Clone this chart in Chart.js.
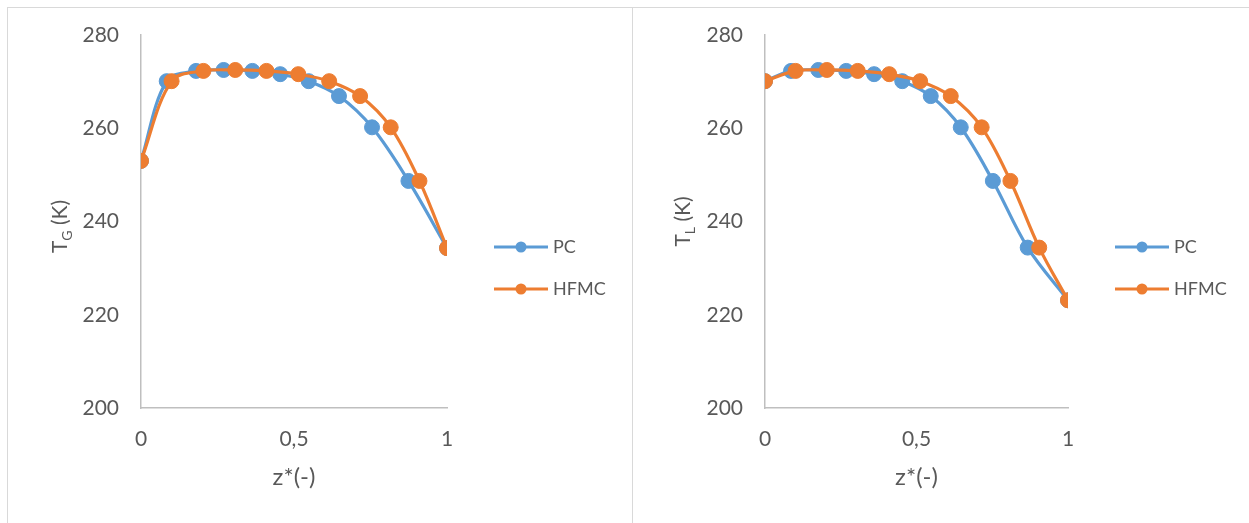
<!DOCTYPE html>
<html>
<head>
<meta charset="utf-8">
<script src="https://cdn.jsdelivr.net/npm/chart.js@4"></script>
<style>
  body { margin: 0; background: #fff; width: 1249px; height: 523px; overflow: hidden; position: relative; }
  .frame { position: absolute; top: 7px; height: 520px; border-top: 1px solid #d9d9d9; }
  #f1 { left: 7px; width: 624px; border-left: 1px solid #d9d9d9; border-right: 1px solid #d9d9d9; }
  #f2 { left: 633px; width: 620px; }
  canvas { position: absolute; top: 8px; }
  #gasChart { left: 8px; }
  #liqChart { left: 633px; }
</style>
</head>
<body>
<div class="frame" id="f1"></div>
<div class="frame" id="f2"></div>
<canvas id="gasChart" width="623" height="515"></canvas>
<canvas id="liqChart" width="616" height="515"></canvas>
<script>
// left chart: gas temperature
const gasPcX = [0, 0.084, 0.18, 0.27, 0.364, 0.455, 0.548, 0.647, 0.755, 0.874, 1];
const gasPcY = [253.0, 270.1, 272.3, 272.5, 272.3, 271.6, 270.1, 266.9, 260.2, 248.7, 234.3];
const gasHfmcX = [0, 0.1, 0.204, 0.308, 0.41, 0.514, 0.615, 0.716, 0.816, 0.91, 1];
const gasHfmcY = [253.0, 270.1, 272.3, 272.5, 272.3, 271.6, 270.1, 266.9, 260.2, 248.7, 234.3];

// right chart: liquid temperature
const liqPcX = [0, 0.086, 0.176, 0.268, 0.36, 0.453, 0.547, 0.646, 0.752, 0.867, 1];
const liqPcY = [270.1, 272.3, 272.5, 272.3, 271.6, 270.1, 266.9, 260.2, 248.7, 234.4, 223.1];
const liqHfmcX = [0, 0.101, 0.204, 0.306, 0.41, 0.512, 0.613, 0.715, 0.81, 0.905, 1];
const liqHfmcY = [270.1, 272.3, 272.5, 272.3, 271.6, 270.1, 266.9, 260.2, 248.7, 234.4, 223.1];

const seriesNames = ['PC', 'HFMC'];
const xTicks = [0, 0.5, 1];
const yTicks = [200, 220, 240, 260, 280];

const BLUE = '#5b9bd5';
const ORANGE = '#ed7d31';
const TEXT = '#595959';
const FONT = 'Lato';

function pairs(xs, ys) {
    return xs.map((x, i) => ({ x: x, y: ys[i] }));
}

// rotated y title with a subscript letter
const yTitlePlugin = {
    id: 'yTitle',
    afterDraw(chart, args, opts) {
        const ctx = chart.ctx;
        const cy = (chart.chartArea.top + chart.chartArea.bottom) / 2 + opts.shift;
        ctx.save();
        ctx.translate(opts.x, cy);
        ctx.rotate(-Math.PI / 2);
        ctx.fillStyle = TEXT;
        ctx.textBaseline = 'middle';
        ctx.font = '21px ' + FONT;
        const w1 = ctx.measureText(opts.main).width;
        const w3 = ctx.measureText(opts.rest).width;
        ctx.font = '14px ' + FONT;
        const w2 = ctx.measureText(opts.sub).width;
        const x = -(w1 + w2 + w3) / 2;
        ctx.font = '21px ' + FONT;
        ctx.fillText(opts.main, x, 0);
        ctx.fillText(opts.rest, x + w1 + w2, 0);
        ctx.font = '14px ' + FONT;
        ctx.fillText(opts.sub, x + w1, 7);
        ctx.restore();
    }
};

// Excel style legend: short line with a marker
const lineLegendPlugin = {
    id: 'lineLegend',
    afterDraw(chart, args, opts) {
        const ctx = chart.ctx;
        const x0 = chart.chartArea.right + opts.dx;
        chart.data.datasets.forEach((ds, i) => {
            const y = opts.y + i * opts.gap;
            ctx.save();
            ctx.strokeStyle = ds.borderColor;
            ctx.lineWidth = 3;
            ctx.beginPath();
            ctx.moveTo(x0, y);
            ctx.lineTo(x0 + 54, y);
            ctx.stroke();
            ctx.fillStyle = ds.borderColor;
            ctx.beginPath();
            ctx.arc(x0 + 27, y, 5.5, 0, Math.PI * 2);
            ctx.fill();
            ctx.fillStyle = TEXT;
            ctx.font = '18px ' + FONT;
            ctx.textBaseline = 'middle';
            ctx.fillText(ds.label, x0 + 59, y);
            ctx.restore();
        });
    }
};

function makeChart(canvasId, pcX, pcY, hfX, hfY, sub, cfg) {
    const ctx = document.getElementById(canvasId).getContext('2d');
    return new Chart(ctx, {
        type: 'line',
        data: {
            datasets: [{
                label: seriesNames[0],
                data: pairs(pcX, pcY),
                borderColor: BLUE,
                backgroundColor: BLUE,
                pointBackgroundColor: BLUE,
                pointBorderColor: BLUE,
                order: 1
            }, {
                label: seriesNames[1],
                data: pairs(hfX, hfY),
                borderColor: ORANGE,
                backgroundColor: ORANGE,
                pointBackgroundColor: ORANGE,
                pointBorderColor: ORANGE,
                order: 0
            }]
        },
        options: {
            responsive: false,
            animation: false,
            events: [],
            layout: { padding: { left: 0, top: 27, right: cfg.right, bottom: 0 } },
            elements: {
                line: { borderWidth: 3.2, tension: 0.35 },
                point: { radius: 7.5, borderWidth: 1 }
            },
            scales: {
                x: {
                    type: 'linear',
                    min: 0,
                    max: 1,
                    afterBuildTicks: s => { s.ticks = xTicks.map(v => ({ value: v })); },
                    afterFit: s => { s.height = 115; s.paddingLeft = 0; s.paddingRight = 0; },
                    grid: { display: false, drawTicks: false },
                    border: { color: '#bfbfbf', width: 1.5 },
                    ticks: {
                        padding: 19,
                        color: TEXT,
                        font: { family: FONT, size: 21 },
                        callback: v => String(v).replace('.', ',')
                    },
                    title: {
                        display: true,
                        text: 'z*(-)',
                        color: TEXT,
                        font: { family: FONT, size: 24 },
                        padding: { top: 0, bottom: 31 }
                    }
                },
                y: {
                    min: 200,
                    max: 280,
                    afterBuildTicks: s => { s.ticks = yTicks.map(v => ({ value: v })); },
                    afterFit: s => { s.width = cfg.left; s.paddingTop = 0; s.paddingBottom = 0; },
                    grid: { display: false, drawTicks: false },
                    border: { color: '#bfbfbf', width: 1.5 },
                    ticks: {
                        padding: 22,
                        color: TEXT,
                        font: { family: FONT, size: 21 }
                    }
                }
            },
            plugins: {
                legend: { display: false },
                tooltip: { enabled: false },
                yTitle: { main: 'T', sub: sub, rest: ' (K)', x: cfg.titleX, shift: cfg.shift },
                lineLegend: { dx: 47, y: 239, gap: 42 }
            }
        },
        plugins: [yTitlePlugin, lineLegendPlugin]
    });
}

makeChart('gasChart', gasPcX, gasPcY, gasHfmcX, gasHfmcY, 'G',
    { left: 133, right: 184, titleX: 52, shift: 5 });
makeChart('liqChart', liqPcX, liqPcY, liqHfmcX, liqHfmcY, 'L',
    { left: 132, right: 181, titleX: 50, shift: 0 });
</script>
</body>
</html>
